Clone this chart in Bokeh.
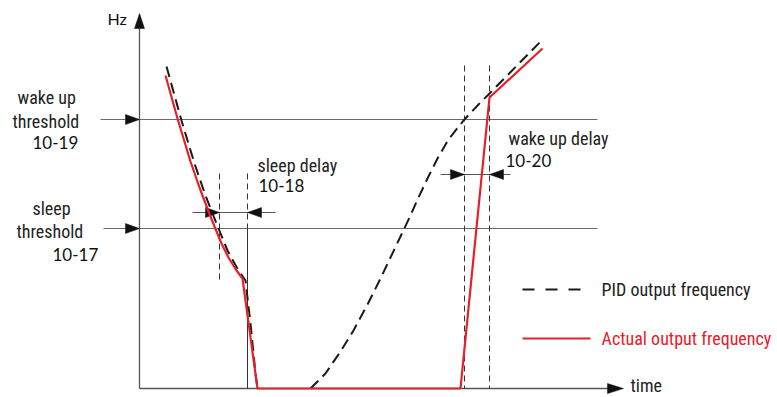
from bokeh.plotting import figure
from bokeh.models import Range1d
from bokeh.core.properties import value
from bokeh.embed import file_html
from bokeh.resources import INLINE
import numpy as np

nan = float("nan")

# ---- data (time units, Hz units) ----
wake_threshold = 269   # 10-19
sleep_threshold = 160  # 10-17

actual_t = [26, 38, 51, 60, 69, 75, 82, 89, 97, 103, 118, 321, 350, 403]
actual_f = [313, 270, 227, 201, 177, 162, 145, 131, 118, 110, 0, 0, 291, 340]

pid_t = [27, 42, 55, 66, 73, 79, 88, 99, 106, 111, 116, 118, nan,
         171, 186, 201, 214, 228, 241, 251, 261, 270, 279, 288, 298, 309, 324, 339, 350, 404]
pid_f = [322, 268, 225, 193, 175, 160, 138, 118, 108, 65, 15, 0, nan,
         0, 15, 37, 58, 84, 110, 131, 152, 171, 191, 210, 230, 249, 268, 284, 295, 350]

sleep_delay_t = [80, 108]      # 10-18 window
sleep_delay_f = 176
wake_delay_t = [325, 350]      # 10-20 window
wake_delay_f = 214

t_max = 484
f_max = 375

RED = "#E5202A"
NARROW = value("'Liberation Sans Narrow', 'Roboto Condensed', 'Arial Narrow', 'DejaVu Sans Condensed', sans-serif")
DIGITS = value("Lato")

p = figure(width=777, height=397, output_backend="svg", toolbar_location=None,
           x_range=Range1d(-139, 638), y_range=Range1d(-9, 388),
           x_axis_type=None, y_axis_type=None, min_border=0)
p.outline_line_color = None
p.background_fill_color = "white"
p.border_fill_color = "white"


def head(tx, ty, dx, dy, L=14, W=10):
    # triangle with tip at (tx, ty), pointing along (dx, dy)
    n = np.hypot(dx, dy)
    ux, uy = dx / n, dy / n
    bx, by = tx - ux * L, ty - uy * L
    px, py = -uy * W / 2, ux * W / 2
    return [tx, bx + px, bx - px], [ty, by + py, by - py]


heads_x, heads_y = [], []

# axes
p.line([0, 0], [0, f_max - 10], line_color="#555555", line_width=1.3)
p.line([0, t_max - 10], [0, 0], line_color="#555555", line_width=1.3)
for hx, hy in [head(0, f_max, 0, 1, 15, 10), head(t_max, 0, 1, 0, 16, 10)]:
    heads_x.append(hx); heads_y.append(hy)

# threshold lines with arrows
for thr, start in [(wake_threshold, -39), (sleep_threshold, -36)]:
    p.line([start, 458], [thr, thr], line_color="#6a6a6a", line_width=1.2)
    hx, hy = head(0, thr, 1, 0, 14, 10)
    heads_x.append(hx); heads_y.append(hy)

# sleep delay window
p.line([sleep_delay_t[0]] * 2, [215, 108], line_color="#333333", line_width=1, line_dash="6 4")
p.line([sleep_delay_t[1]] * 2, [215, sleep_threshold], line_color="#333333", line_width=1, line_dash="6 4")
p.line([sleep_delay_t[1]] * 2, [sleep_threshold, 0], line_color="#333333", line_width=1)
p.line([sleep_delay_t[0] - 27, sleep_delay_t[1] + 28], [sleep_delay_f] * 2, line_color="#555555", line_width=1)
for hx, hy in [head(sleep_delay_t[0], sleep_delay_f, 1, 0, 14, 10),
               head(sleep_delay_t[1], sleep_delay_f, -1, 0, 14, 10)]:
    heads_x.append(hx); heads_y.append(hy)

# wake delay window
for tt in wake_delay_t:
    p.line([tt, tt], [323, 0], line_color="#333333", line_width=1, line_dash="6 4")
p.line([wake_delay_t[0] - 24, wake_delay_t[1] + 21], [wake_delay_f] * 2, line_color="#555555", line_width=1)
for hx, hy in [head(wake_delay_t[0], wake_delay_f, 1, 0, 14, 10),
               head(wake_delay_t[1], wake_delay_f, -1, 0, 14, 10)]:
    heads_x.append(hx); heads_y.append(hy)

p.patches(heads_x, heads_y, fill_color="#111111", line_color="#111111", line_width=0.5)

# curves
p.line(pid_t, pid_f, line_color="#1a1a1a", line_width=2, line_dash="11 6",
       line_join="round")
p.line(actual_t, actual_f, line_color=RED, line_width=2.2, line_join="round")

# legend
p.line([383, 451], [99, 99], line_color="#1a1a1a", line_width=2, line_dash="12 11")
p.line([383, 451], [50, 50], line_color=RED, line_width=2.2)

narrow_labels = ["wake up", "threshold", "sleep", "threshold", "sleep delay", "wake up delay",
                 "time", "PID output frequency", "Actual output frequency"]
narrow_x = [-122, -127, -107, -123, 118, 369, 491, 462, 462]
narrow_y = [291, 267, 180, 157, 223, 250, 3, 99, 50]
narrow_c = ["#222222"] * 8 + [RED]
p.text(x=narrow_x, y=narrow_y, text=narrow_labels, text_color=narrow_c,
       text_font=NARROW, text_font_size="18px", text_align="left", text_baseline="middle")

digit_labels = ["10-19", "10-17", "10-18", "10-20"]
digit_x = [-107, -87, 119, 366]
digit_y = [246, 134, 203, 228]
p.text(x=digit_x, y=digit_y, text=digit_labels, text_color="#111111",
       text_font=DIGITS, text_font_size="17px", text_align="left", text_baseline="middle")

p.text(x=[-32], y=[370], text=["Hz"], text_color="#111111",
       text_font=DIGITS, text_font_size="16px", text_align="left", text_baseline="middle")

open("out.html", "w").write(file_html(p, INLINE))
